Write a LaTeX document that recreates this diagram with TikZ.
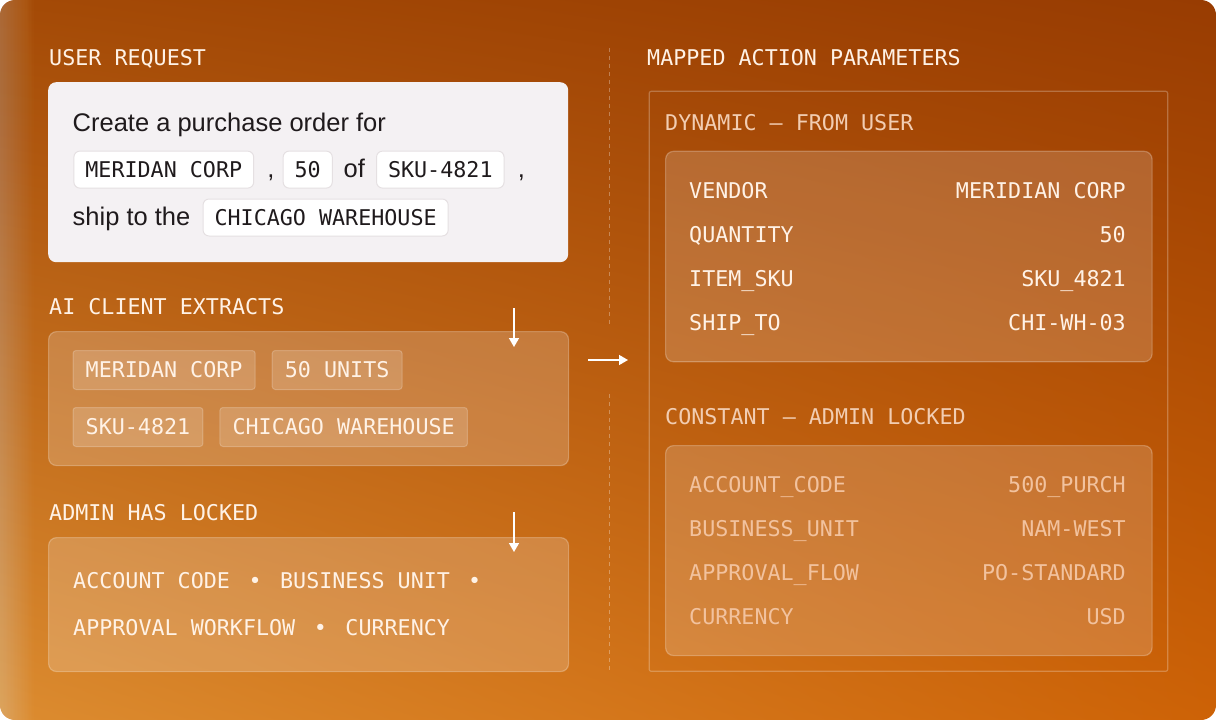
\documentclass[tikz,border=0pt]{standalone}
\usepackage{fontspec}
\setmainfont{Liberation Sans}
\newfontfamily\codefont{DejaVu Sans Mono}
\definecolor{BgTopLeft}{HTML}{A44A06}
\definecolor{BgTopRight}{HTML}{983C02}
\definecolor{BgBotLeft}{HTML}{DC8C30}
\definecolor{BgBotRight}{HTML}{CD6206}
\definecolor{Cream}{HTML}{FFF2E6}
\definecolor{Peach}{HTML}{F2CDB2}
\definecolor{LockedText}{HTML}{F2C29E}
\definecolor{Ink}{HTML}{1F1A1C}
\definecolor{Paper}{HTML}{F4F1F3}
\definecolor{ChipLine}{HTML}{E5E0E2}
\usetikzlibrary{arrows.meta, positioning, shadings}
\newcommand{\dotsep}{~\hspace{5.5pt}•\hspace{5.5pt}~}

\begin{document}
\begin{tikzpicture}[x=1pt, y=-1pt,
    monotext/.style={font=\codefont\fontsize{21.7pt}{26pt}\selectfont,
      inner sep=0pt, text height=15.8pt, text depth=0pt},
    seclabel/.style={monotext, text=Cream, anchor=west},
    sublabel/.style={monotext, text=Peach, anchor=west},
    prose/.style={font=\fontsize{25.5pt}{30pt}\selectfont, text=Ink, inner sep=0pt},
    reqchip/.style={monotext, text=Ink, fill=white, draw=ChipLine, line width=1pt,
      rounded corners=6pt, inner xsep=11.5pt, minimum height=37pt},
    tag/.style={monotext, text=Cream, fill=white, fill opacity=0.16, text opacity=1,
      draw=white, draw opacity=0.22, line width=1pt, rounded corners=3pt,
      inner xsep=12.7pt, minimum height=39pt},
    panel/.style={fill=white, fill opacity=0.19, draw=white, draw opacity=0.25,
      line width=1.2pt, rounded corners=8pt, inner sep=0pt, anchor=north west},
    flow/.style={-{Triangle[width=10pt,length=9pt]}, white, line width=1.5pt},
    divider/.style={white, opacity=0.3, line width=1pt, dash pattern=on 4pt off 4pt}]
  \useasboundingbox (0,0) rectangle (1216,720);
  \fill[white] (0,0) rectangle (1216,720);
  \shade[rounded corners=15pt, upper left=BgTopLeft, upper right=BgTopRight,
         lower left=BgBotLeft, lower right=BgBotRight] (0,0) rectangle (1216,720);
  \begin{scope}
    \clip[rounded corners=15pt] (0,0) rectangle (1216,720);
    \foreach \k in {1,...,24}
      \fill[white, opacity=0.01] (0,0) rectangle (1.4*\k,720);
  \end{scope}

  \node[seclabel] (reqlabel) at (49,58) {USER REQUEST};
  \node[fill=Paper, rounded corners=8pt, anchor=north west, inner sep=0pt,
        minimum width=520pt, minimum height=180pt] (reqbox) at (48,82) {};
  \node[prose, anchor=base west] (reqtext) at (72.5,131.7) {Create a purchase order for};
  \node[reqchip, anchor=base west] (reqvendor) at (73.4,177.5) {MERIDAN CORP};
  \node[prose, base right=13pt of reqvendor] (reqcomma) {,};
  \node[reqchip, base right=8pt of reqcomma] (reqqty) {50};
  \node[prose, base right=10.6pt of reqqty] (reqof) {of};
  \node[reqchip, base right=11pt of reqof] (reqsku) {SKU-4821};
  \node[prose, base right=13pt of reqsku] (reqcomma2) {,};
  \node[prose, anchor=base west] (reqship) at (72.5,225.4) {ship to the};
  \node[reqchip, base right=12pt of reqship] (reqdest) {CHICAGO WAREHOUSE};

  \node[seclabel] (extractlabel) at (49,307) {AI CLIENT EXTRACTS};
  \node[panel, minimum width=520pt, minimum height=134pt] (extractbox) at (48,331) {};
  \node[tag, anchor=north west] (tagvendor) at (72.5,350) {MERIDAN CORP};
  \node[tag, right=16pt of tagvendor] (tagqty) {50 UNITS};
  \node[tag, below=17pt of tagvendor.south west, anchor=north west] (tagsku) {SKU-4821};
  \node[tag, right=16pt of tagsku] (tagdest) {CHICAGO WAREHOUSE};

  \node[seclabel] (lockedlabel) at (49,513) {ADMIN HAS LOCKED};
  \node[panel, minimum width=520pt, minimum height=134pt] (lockedbox) at (48,537) {};
  \node[monotext, text=Cream, anchor=west] (lockedline1) at (73,581)
    {ACCOUNT CODE\dotsep BUSINESS UNIT~\hspace{5pt}•};
  \node[monotext, text=Cream, anchor=west] (lockedline2) at (73,628)
    {APPROVAL WORKFLOW\dotsep CURRENCY};

  \coordinate (extractdrop) at (514,308);
  \coordinate (extractland) at (514,347);
  \coordinate (lockeddrop) at (514,512);
  \coordinate (lockedland) at (514,552);
  \coordinate (mapstart) at (588,360);
  \coordinate (mapend) at (628,360);
  \draw[flow] (extractdrop) -- (extractland);
  \draw[flow] (lockeddrop) -- (lockedland);
  \draw[flow] (mapstart) -- (mapend);
  \draw[divider] (609,48) -- (609,325);
  \draw[divider] (609,394) -- (609,670);

  \node[seclabel] (maplabel) at (647,58) {MAPPED ACTION PARAMETERS};
  \node[draw=white, draw opacity=0.25, line width=1.2pt, rounded corners=2pt,
        anchor=north west, inner sep=0pt, minimum width=518.5pt,
        minimum height=580pt] (mapbox) at (648.6,90.7) {};

  \node[sublabel] (dynlabel) at (665,123) {DYNAMIC — FROM USER};
  \node[panel, fill opacity=0.17, minimum width=486.5pt, minimum height=210.5pt]
    (dynbox) at (665,150.7) {};
  \foreach \key/\val [count=\i from 0] in
      {VENDOR/MERIDIAN CORP, QUANTITY/50, ITEM\_SKU/SKU\_4821, SHIP\_TO/CHI-WH-03} {
    \node[monotext, text=Cream, anchor=west] (dynkey\i) at (689,190.7+44*\i) {\key};
    \node[monotext, text=Cream, anchor=east] (dynval\i) at (1126,190.7+44*\i) {\val};
  }

  \node[sublabel] (constlabel) at (665,417) {CONSTANT — ADMIN LOCKED};
  \node[panel, fill opacity=0.17, minimum width=486.5pt, minimum height=210pt]
    (constbox) at (665,445) {};
  \foreach \key/\val [count=\i from 0] in
      {ACCOUNT\_CODE/500\_PURCH, BUSINESS\_UNIT/NAM-WEST,
       APPROVAL\_FLOW/PO-STANDARD, CURRENCY/USD} {
    \node[monotext, text=LockedText, anchor=west] (constkey\i) at (689,485+44*\i) {\key};
    \node[monotext, text=LockedText, anchor=east] (constval\i) at (1126,485+44*\i) {\val};
  }
\end{tikzpicture}
\end{document}
